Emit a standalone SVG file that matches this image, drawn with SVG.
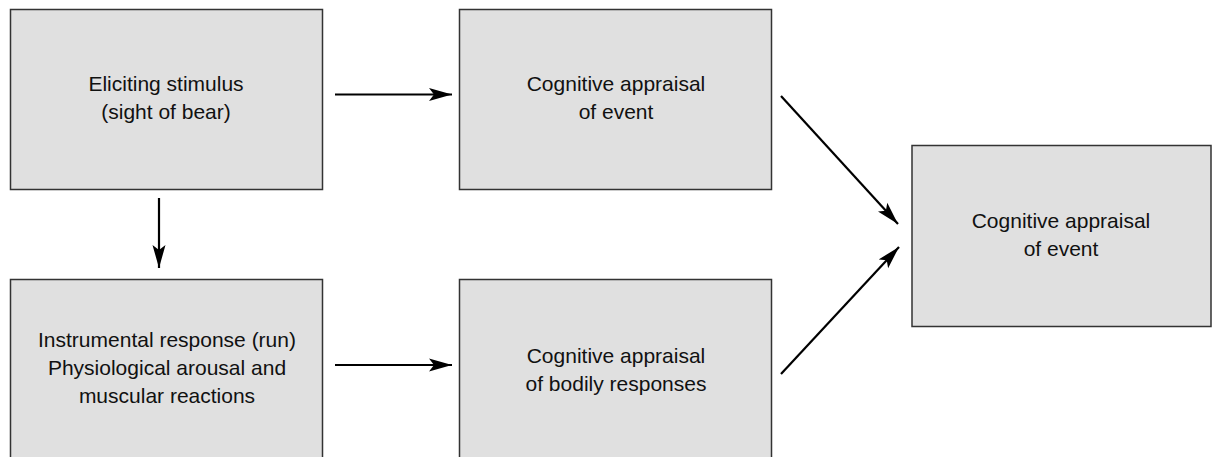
<svg xmlns="http://www.w3.org/2000/svg" width="1220" height="457" viewBox="0 0 1220 457">
<style>
.box{fill:#e0e0e0;stroke:#333;stroke-width:1.5}
.t{font-family:"Liberation Sans",Arial,sans-serif;font-size:21px;fill:#111;text-anchor:middle}
.c{stroke:#000;stroke-width:2.2;fill:none;marker-end:url(#ah)}
</style>
<defs>
<marker id="ah" markerUnits="userSpaceOnUse" markerWidth="24" markerHeight="14" refX="23" refY="7" orient="auto" viewBox="0 0 24 14">
<path d="M0,0.5 L23,7 L0,13.5 L5,7 Z" fill="#000"/>
</marker>
</defs>
<rect width="1220" height="457" fill="#fff"/>
<g id="n1"><rect class="box" x="10.5" y="9.5" width="312" height="180"/>
<text class="t" x="166" y="91">Eliciting stimulus</text><text class="t" x="166" y="119">(sight of bear)</text></g>
<g id="n2"><rect class="box" x="459.5" y="9.5" width="312" height="180"/>
<text class="t" x="616" y="91">Cognitive appraisal</text><text class="t" x="616" y="119">of event</text></g>
<g id="n3"><rect class="box" x="912" y="145.5" width="299" height="181"/>
<text class="t" x="1061" y="228">Cognitive appraisal</text><text class="t" x="1061" y="256">of event</text></g>
<g id="n4"><rect class="box" x="10.5" y="279.5" width="312" height="190"/>
<text class="t" x="167" y="347">Instrumental response (run)</text><text class="t" x="167" y="375">Physiological arousal and</text><text class="t" x="167" y="403">muscular reactions</text></g>
<g id="n5"><rect class="box" x="459.5" y="279.5" width="312" height="190"/>
<text class="t" x="616" y="362.5">Cognitive appraisal</text><text class="t" x="616" y="390.5">of bodily responses</text></g>
<g id="connectors">
<line class="c" x1="335" y1="94.5" x2="452" y2="94.5"/>
<line class="c" x1="335" y1="365" x2="452" y2="365"/>
<line class="c" x1="159" y1="198" x2="159" y2="268"/>
<line class="c" x1="781" y1="96" x2="898" y2="224"/>
<line class="c" x1="781" y1="374" x2="899" y2="247"/>
</g>
</svg>
